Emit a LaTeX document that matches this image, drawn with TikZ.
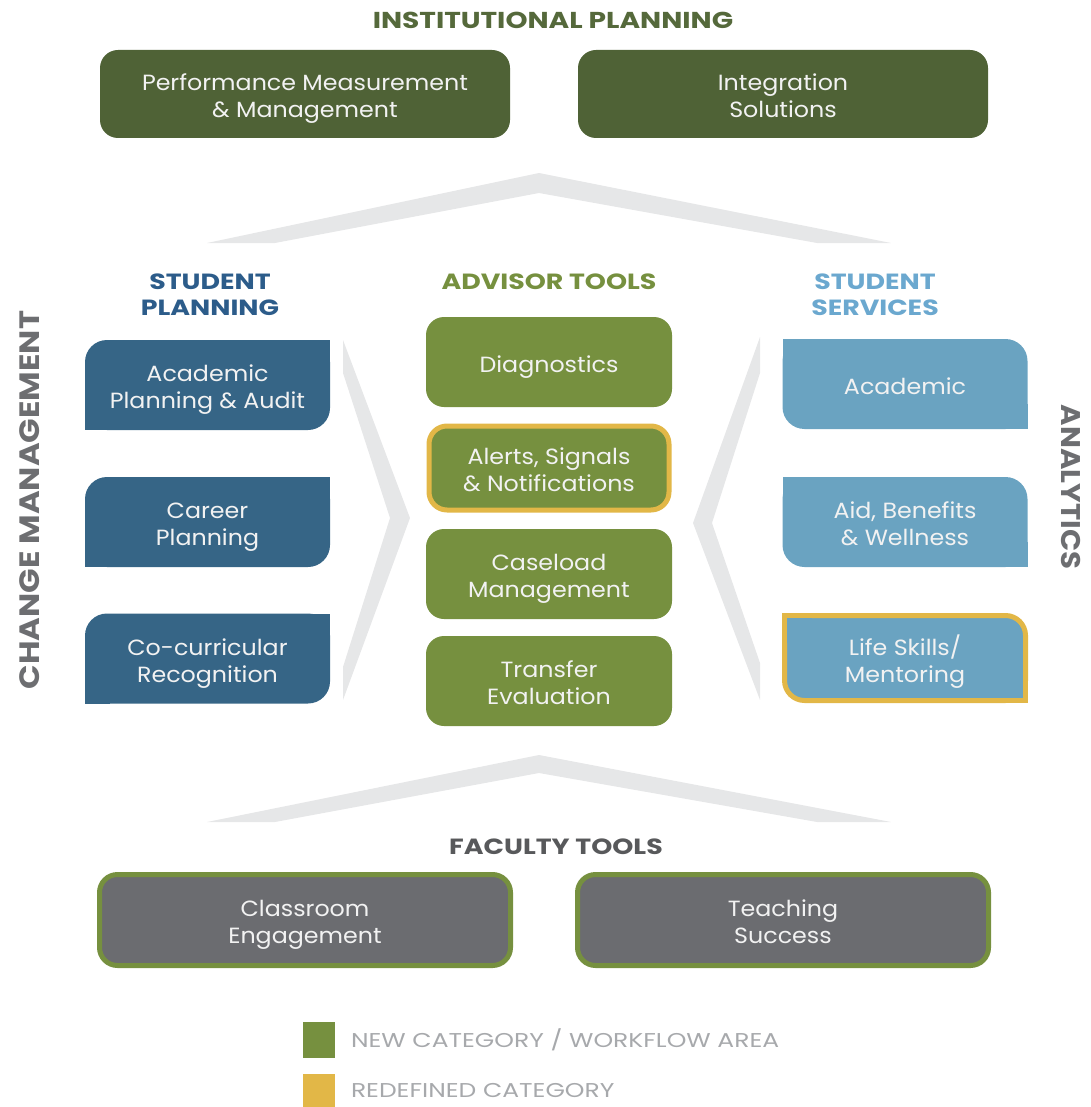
\documentclass[tikz,border=0pt]{standalone}
\usepackage{fontspec}
\setmainfont{Poppins}
\newfontfamily\geo{Poppins}[FakeStretch=1.08]
\newfontfamily\geohead{Poppins}[FakeStretch=1.22]
\newfontfamily\geoside{Poppins}[FakeStretch=1.15]
\newfontfamily\geoleg{Poppins}[FakeStretch=1.25]
\newcommand{\bt}[1]{\raisebox{0pt}[\dimexpr\height+9.5pt\relax][\depth]{\begin{tabular}{@{}c@{}}#1\end{tabular}}}
\definecolor{dgreen}{HTML}{4F6236}
\definecolor{tgreen}{HTML}{55693B}
\definecolor{mgreen}{HTML}{76903F}
\definecolor{ylw}{HTML}{E2B747}
\definecolor{dblue}{HTML}{366586}
\definecolor{lblue}{HTML}{6AA3C1}
\definecolor{hdblue}{HTML}{2C5C8A}
\definecolor{hlblue}{HTML}{6BA8CF}
\definecolor{gbox}{HTML}{6B6C70}
\definecolor{chev}{HTML}{E6E7E8}
\definecolor{sidegray}{HTML}{6D6E71}
\definecolor{leggray}{HTML}{A7A9AC}
\definecolor{ftgray}{HTML}{58595B}
\definecolor{boxtext}{HTML}{F2F2F2}
\begin{document}
\begin{tikzpicture}[x=1pt,y=-1pt,
  every node/.style={outer sep=0pt},
  boxtxt/.style={align=center, text=boxtext, inner sep=0pt, font=\geo\fontsize{22}{27}\selectfont},
  topbox/.style={boxtxt, fill=dgreen, rounded corners=18pt, minimum width=410pt, minimum height=88pt},
  facbox/.style={boxtxt, fill=gbox, draw=mgreen, line width=5pt, rounded corners=18pt, minimum width=411pt, minimum height=91pt},
  sidebox/.style={boxtxt, rounded corners=22pt, minimum width=245pt, minimum height=90pt},
  spbox/.style={sidebox, fill=dblue},
  ssbox/.style={sidebox, fill=lblue},
  advbox/.style={boxtxt, fill=mgreen, rounded corners=18pt, minimum width=246pt, minimum height=90pt},
  heading/.style={align=center, font=\geohead\bfseries\fontsize{22}{26}\selectfont, inner sep=0pt},
  sidelabel/.style={font=\geoside\bfseries\fontsize{28}{30}\selectfont, text=sidegray, inner sep=0pt},
  legtxt/.style={font=\geoleg\fontsize{20}{22}\selectfont, text=leggray, anchor=west, inner sep=0pt},
  chevshape/.style={fill=chev}
]
\useasboundingbox (0,0) rectangle (1090,1107);

% chevrons
\fill[chevshape] (207,243) -- (539,173) -- (891,243) -- (817,243) -- (539,193) -- (275,243) -- cycle;
\fill[chevshape] (207,822) -- (539,755) -- (891,822) -- (817,822) -- (539,773) -- (275,822) -- cycle;
\fill[chevshape] (343,340) -- (410,518) -- (343,700) -- (343,667) -- (390,518) -- (343,373) -- cycle;
\fill[chevshape] (760,337) -- (693,523) -- (760,700) -- (760,663) -- (712,523) -- (760,373) -- cycle;

% institutional planning
\node[heading, text=tgreen, font=\geohead\bfseries\fontsize{23}{26}\selectfont] (ipt) at (553,20) {INSTITUTIONAL PLANNING};
\node[topbox] (ip1) at (305,94) {\bt{Performance Measurement\\\& Management}};
\node[topbox] (ip2) at (783,94) {\bt{Integration\\Solutions}};

% headings
\node[heading, text=hdblue] (sph) at (210,295) {STUDENT\\PLANNING};
\node[heading, text=mgreen] (ath) at (549,282) {ADVISOR TOOLS};
\node[heading, text=hlblue] (ssh) at (875,295) {STUDENT\\SERVICES};

% side labels
\node[sidelabel, rotate=90] (cm) at (30,500) {CHANGE MANAGEMENT};
\node[sidelabel, rotate=-90, font=\geo\bfseries\fontsize{27}{30}\selectfont] (an) at (1071,487) {ANALYTICS};

% student planning
\node[spbox] (sp1) at (207.5,385) {\bt{Academic\\Planning \& Audit}};
\node[spbox] (sp2) at (207.5,522) {\bt{Career\\Planning}};
\node[spbox] (sp3) at (207.5,658.5) {\bt{Co-curricular\\Recognition}};
\foreach \n in {sp1,sp2,sp3}{
  \fill[dblue] (\n.north east) rectangle ++(-25,25);
  \fill[dblue] (\n.south west) rectangle ++(25,-25);
}

% advisor tools
\node[advbox] (at1) at (549,362) {\bt{Diagnostics}};
\node[advbox, draw=ylw, line width=5pt, minimum width=240pt, minimum height=84pt] (at2) at (549,468) {\bt{Alerts, Signals\\\& Notifications}};
\node[advbox] (at3) at (549,574) {\bt{Caseload\\Management}};
\node[advbox] (at4) at (549,681) {\bt{Transfer\\Evaluation}};

% student services
\node[ssbox] (ss1) at (905,384) {\bt{Academic}};
\node[ssbox] (ss2) at (905,522) {\bt{Aid, Benefits\\\& Wellness}};
\node[ssbox, draw=ylw, line width=5pt, minimum width=241pt, minimum height=85pt, rounded corners=20pt] (ss3) at (905,658) {\bt{Life Skills/\\Mentoring}};
\foreach \n in {ss1,ss2}{
  \fill[lblue] (\n.north west) rectangle ++(25,25);
  \fill[lblue] (\n.south east) rectangle ++(-25,-25);
}
\fill[ylw] ([shift={(-2.5,-2.5)}]ss3.north west) rectangle ++(27,27);
\fill[lblue] ([shift={(2.5,2.5)}]ss3.north west) rectangle ++(25,25);
\fill[ylw] ([shift={(2.5,2.5)}]ss3.south east) rectangle ++(-27,-27);
\fill[lblue] ([shift={(-2.5,-2.5)}]ss3.south east) rectangle ++(-25,-25);

% faculty tools
\node[heading, text=ftgray] (fth) at (556,847) {FACULTY TOOLS};
\node[facbox] (ft1) at (305,920) {\bt{Classroom\\Engagement}};
\node[facbox] (ft2) at (783,920) {\bt{Teaching\\Success}};

% legend
\node[fill=mgreen, minimum width=32pt, minimum height=36pt, inner sep=0pt] (lg1) at (319,1040) {};
\node[legtxt] (lt1) at (351,1040) {NEW CATEGORY / WORKFLOW AREA};
\node[fill=ylw, minimum width=32pt, minimum height=36pt, inner sep=0pt] (lg2) at (319,1092) {};
\node[legtxt] (lt2) at (351,1090) {REDEFINED CATEGORY};
\end{tikzpicture}
\end{document}
